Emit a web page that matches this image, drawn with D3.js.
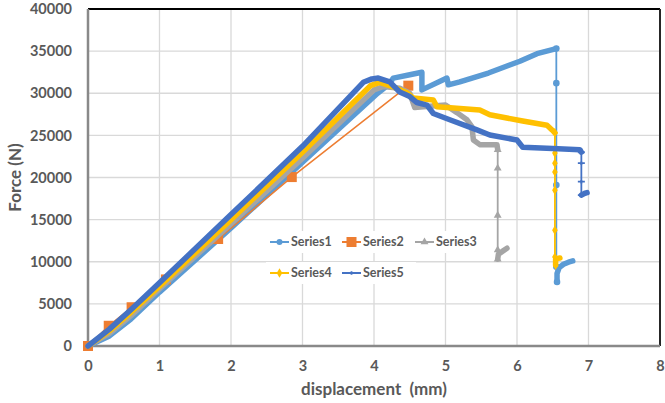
<!DOCTYPE html>
<html lang="en">
  <head>
    <meta charset="utf-8" />
    <title>Force vs displacement</title>
    <script src="https://cdn.jsdelivr.net/npm/d3@7"></script>
    <style>
      body { margin: 0; background: #fff; }
      text { font-family: Lato, "Open Sans", sans-serif; fill: #595959; }
    </style>
  </head>
  <body>
    <script>
      // values (displacement mm, force N)
      // dense = many markers drawn close together (looks like a thick band)
      // drop = sparse points after failure, tail = dense bit at the bottom
      const series1Dense = [[0,0],[0.3,1200],[0.6,3200],[1,6400],[2,14000],[3,21800],[4.05,30000],[4.2,31000],[4.27,31800],[4.5,32200],[4.67,32500],[4.67,30400],[5.02,31800],[5.04,31000],[5.2,31350],[5.6,32400],[6.04,33800],[6.28,34700],[6.55,35300]];
      const series1Drop = [[6.55,35300],[6.55,31200],[6.55,19100],[6.55,9400],[6.56,7600]];
      const series1Tail = [[6.56,7600],[6.56,8600],[6.59,9300],[6.65,9700],[6.72,9950],[6.78,10100]];
      const series2 = [[0,0],[0.29,2400],[0.61,4600],[1.09,7900],[1.82,12700],[2.85,20050],[4.48,30900]];
      const series3Dense = [[0,0],[0.3,1500],[0.6,3600],[1,6800],[2,14500],[3,22300],[4.0,30400],[4.13,30800],[4.36,30600],[4.5,30000],[4.57,28300],[4.69,28400],[5.0,28600],[5.16,27700],[5.3,26850],[5.37,26000],[5.39,24450],[5.48,23900],[5.72,23900],[5.73,23300]];
      const series3Drop = [[5.73,23300],[5.73,21100],[5.73,15500],[5.73,11400],[5.73,10300]];
      const series3Tail = [[5.73,10300],[5.74,10900],[5.79,11200],[5.86,11600]];
      const series4Dense = [[0,0],[0.3,1800],[0.6,4000],[1,7100],[2,15000],[3,23000],[3.95,30900],[4.08,31300],[4.27,30750],[4.46,30050],[4.55,29450],[4.83,29200],[4.88,28400],[5.48,28000],[5.62,27450],[6.08,26700],[6.42,26200],[6.49,25650],[6.53,25300]];
      const series4Drop = [[6.53,25300],[6.53,22900],[6.53,21700],[6.53,20650],[6.53,18500],[6.53,13750],[6.53,10550],[6.54,9600]];
      const series4Tail = [[6.54,9600],[6.54,10300],[6.57,10400],[6.6,10450]];
      const series5Dense = [[0,0],[0.3,2000],[0.6,4300],[1,7500],[2,15600],[3,23700],[3.85,31300],[3.97,31700],[4.06,31800],[4.22,31350],[4.36,30150],[4.5,29600],[4.6,28900],[4.74,28600],[4.83,27600],[5.06,26850],[5.44,25650],[5.62,25050],[6.0,24450],[6.08,23600],[6.5,23450],[6.88,23300],[6.9,23000]];
      const series5Drop = [[6.9,23000],[6.9,21700],[6.9,19500],[6.9,17900]];
      const series5Tail = [[6.9,17900],[6.94,18100],[6.98,18200]];

      const xTicks = [0, 1, 2, 3, 4, 5, 6, 7, 8];
      const yTicks = [0, 5000, 10000, 15000, 20000, 25000, 30000, 35000, 40000];
      const seriesNames = ["Series1", "Series2", "Series3", "Series4", "Series5"];
      const seriesColors = ["#5B9BD5", "#ED7D31", "#A5A5A5", "#FFC000", "#4472C4"];

      const width = 665, height = 403;
      const margin = { left: 88, right: 5, top: 9, bottom: 57 };

      const svg = d3.select("body").append("svg")
        .attr("width", width)
        .attr("height", height);

      const x = d3.scaleLinear().domain([0, 8]).range([margin.left, width - margin.right]);
      const y = d3.scaleLinear().domain([0, 40000]).range([height - margin.bottom, margin.top]);

      // grid
      svg.append("g").selectAll("line").data(xTicks.slice(1)).join("line")
        .attr("x1", d => x(d)).attr("x2", d => x(d))
        .attr("y1", y(0)).attr("y2", y(40000))
        .attr("stroke", "#d9d9d9").attr("stroke-width", 1.3);
      svg.append("g").selectAll("line").data(yTicks.slice(1)).join("line")
        .attr("x1", x(0)).attr("x2", x(8))
        .attr("y1", d => y(d)).attr("y2", d => y(d))
        .attr("stroke", "#d9d9d9").attr("stroke-width", 1.3);

      // axes
      const xAxis = svg.append("g")
        .attr("transform", `translate(0,${y(0)})`)
        .call(d3.axisBottom(x).tickValues(xTicks).tickSize(0).tickPadding(15));
      const yAxis = svg.append("g")
        .attr("transform", `translate(${x(0)},0)`)
        .call(d3.axisLeft(y).tickValues(yTicks).tickFormat(d3.format("d")).tickSize(0).tickPadding(16));
      [xAxis, yAxis].forEach(a => {
        a.select(".domain").remove();
        a.selectAll("text")
          .style("font-family", "Lato, sans-serif")
          .style("font-size", "14.5px")
          .style("font-weight", "bold")
          .attr("fill", "#595959");
      });

      // frame: top/right dark, left/bottom grey axes
      svg.append("line").attr("x1", x(0)).attr("x2", x(8)).attr("y1", y(40000)).attr("y2", y(40000))
        .attr("stroke", "#000").attr("stroke-width", 2);
      svg.append("line").attr("x1", x(8)).attr("x2", x(8)).attr("y1", y(40000)).attr("y2", y(0))
        .attr("stroke", "#262626").attr("stroke-width", 2);
      svg.append("line").attr("x1", x(0)).attr("x2", x(0)).attr("y1", y(40000)).attr("y2", y(0))
        .attr("stroke", "#898989").attr("stroke-width", 2.5);
      svg.append("line").attr("x1", x(0)).attr("x2", x(8)).attr("y1", y(0)).attr("y2", y(0))
        .attr("stroke", "#898989").attr("stroke-width", 2.5);

      const line = d3.line().x(d => x(d[0])).y(d => y(d[1]));

      function marker(sel, type, color, size) {
        if (type === "circle") {
          sel.append("circle").attr("r", size).attr("fill", color);
        } else if (type === "square") {
          sel.append("rect").attr("x", -size).attr("y", -size)
            .attr("width", size * 2).attr("height", size * 2).attr("fill", color);
        } else if (type === "triangle") {
          sel.append("path").attr("d", d3.symbol(d3.symbolTriangle, size * size * 2.2)).attr("fill", color);
        } else if (type === "diamond") {
          sel.append("path").attr("d", d3.symbol(d3.symbolDiamond, size * size * 3)).attr("fill", color);
        } else {
          sel.append("path").attr("d", `M${-size},0H${size}M0,${-size * 0.5}V${size * 0.5}`)
            .attr("stroke", color).attr("stroke-width", 1.8);
        }
      }

      function drawSeries(dense, drop, tail, color, type, msize) {
        const g = svg.append("g");
        g.append("path").datum(drop).attr("d", line)
          .attr("fill", "none").attr("stroke", color).attr("stroke-width", 1.8);
        [dense, tail].forEach(part => {
          g.append("path").datum(part).attr("d", line)
            .attr("fill", "none").attr("stroke", color).attr("stroke-width", 5.5)
            .attr("stroke-linejoin", "round").attr("stroke-linecap", "round");
        });
        g.selectAll("g.m").data(drop).join("g").attr("class", "m")
          .attr("transform", d => `translate(${x(d[0])},${y(d[1])})`)
          .each(function () { marker(d3.select(this), type, color, msize); });
      }

      drawSeries(series1Dense, series1Drop, series1Tail, seriesColors[0], "circle", 3.3);

      // series 2: sparse squares
      const g2 = svg.append("g");
      g2.append("path").datum(series2).attr("d", line)
        .attr("fill", "none").attr("stroke", seriesColors[1]).attr("stroke-width", 1.5);
      g2.selectAll("rect").data(series2).join("rect")
        .attr("x", d => x(d[0]) - 5).attr("y", d => y(d[1]) - 5)
        .attr("width", 10).attr("height", 10).attr("fill", seriesColors[1]);

      drawSeries(series3Dense, series3Drop, series3Tail, seriesColors[2], "triangle", 3.5);
      drawSeries(series4Dense, series4Drop, series4Tail, seriesColors[3], "diamond", 3);
      drawSeries(series5Dense, series5Drop, series5Tail, seriesColors[4], "dash", 3.5);

      // legend (two rows, each with white background)
      const legendRows = [[0, 1, 2], [3, 4]];
      const legendX = [270, 342, 415];
      const legendY = [242, 273];
      const markerTypes = ["circle", "square", "triangle", "diamond", "dash"];
      const markerSizes = [3, 5, 3.5, 3, 3.5];
      legendRows.forEach((row, ri) => {
        svg.append("rect").attr("x", 266).attr("y", legendY[ri] - 11)
          .attr("width", ri === 0 ? 228 : 150).attr("height", 22).attr("fill", "#fff");
        row.forEach((si, ci) => {
          const lx = legendX[ci];
          const g = svg.append("g").attr("transform", `translate(${lx},${legendY[ri]})`);
          g.append("line").attr("x1", 0).attr("x2", 19).attr("y1", 0).attr("y2", 0)
            .attr("stroke", seriesColors[si]).attr("stroke-width", 2);
          const mg = g.append("g").attr("transform", "translate(9.5,0)");
          marker(mg, markerTypes[si], seriesColors[si], markerSizes[si]);
          g.append("text").attr("x", 21).attr("y", 0).attr("dy", "0.35em")
            .style("font-size", "12.5px").style("font-weight", "bold").text(seriesNames[si]);
        });
      });

      // axis titles
      svg.append("text")
        .attr("x", (x(0) + x(8)) / 2).attr("y", 395)
        .attr("text-anchor", "middle")
        .style("font-size", "17px").style("font-weight", "bold")
        .text("displacement\u00a0\u00a0(mm)");
      svg.append("text")
        .attr("transform", `translate(21,${(y(0) + y(40000)) / 2}) rotate(-90)`)
        .attr("text-anchor", "middle")
        .style("font-size", "17px").style("font-weight", "bold")
        .text("Force (N)");
    </script>
  </body>
</html>
